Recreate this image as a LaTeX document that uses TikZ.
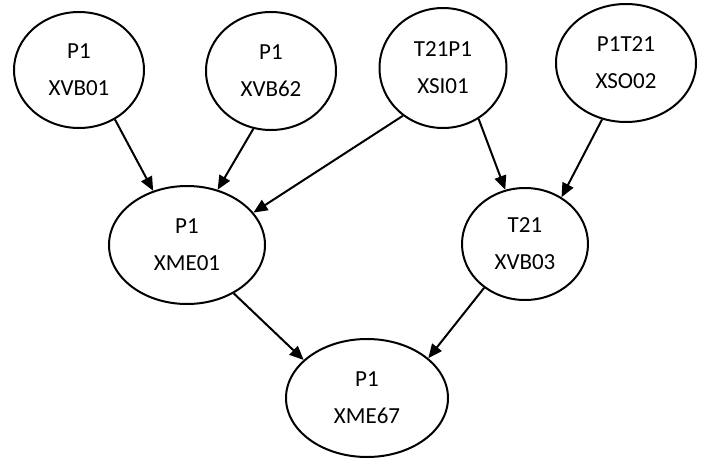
\documentclass[tikz,border=0pt]{standalone}
\usepackage{fontspec}
\setmainfont{Carlito}
\usetikzlibrary{arrows.meta,shapes.geometric}
\tikzset{
  blob/.style={draw, ellipse, line width=2pt, inner sep=0pt, align=center,
    font=\fontsize{23}{37}\selectfont},
  link/.style={line width=2pt, -{Triangle[length=14pt,width=12pt]}}
}

\begin{document}
\begin{tikzpicture}[x=1pt,y=-1pt]
		%%%%% START %%%%%
		\useasboundingbox (0,0) rectangle (724,464);
		
		% top row
		\node[blob, minimum width=130, minimum height=116] (p1xvb01) at (79,70) {P1\\XVB01};
		\node[blob, minimum width=130, minimum height=118] (p1xvb62) at (271,71) {P1\\XVB62};
		\node[blob, minimum width=127, minimum height=120] (t21p1xsi01) at (443,68) {T21P1\\XSI01};
		\node[blob, minimum width=140, minimum height=118] (p1t21xso02) at (626,63) {P1T21\\XSO02};
		
		% middle row
		\node[blob, minimum width=156, minimum height=118] (p1xme01) at (187,245) {P1\\XME01};
		\node[blob, minimum width=126, minimum height=112] (t21xvb03) at (525,244) {T21\\XVB03};
		
		% bottom
		\node[blob, minimum width=162, minimum height=118] (p1xme67) at (367,398) {P1\\XME67};
		
		\draw[link] (p1xvb01.-54) -- (p1xme01.122);
		\draw[link] (p1xvb62.-107) -- (p1xme01.61);
		\draw[link] (t21p1xsi01.-130) -- (p1xme01.26);
		\draw[link] (t21p1xsi01.-55) -- (t21xvb03.110);
		\draw[link] (p1t21xso02.-113) -- (t21xvb03.52);
		\draw[link] (p1xme01.-46) -- (p1xme67.149);
		\draw[link] (t21xvb03.-133) -- (p1xme67.33);
		
		%%%%% END %%%%%
	\end{tikzpicture}
\end{document}
